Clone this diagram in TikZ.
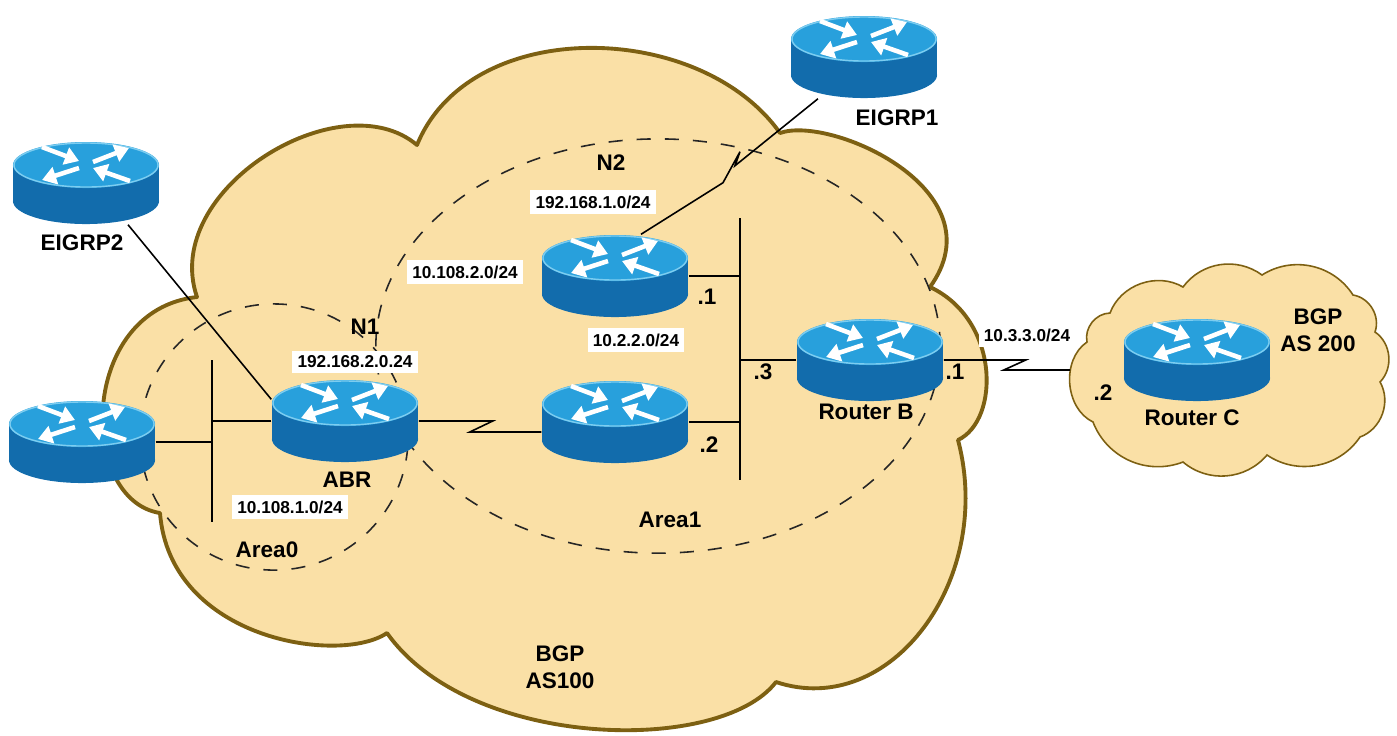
\documentclass[tikz,border=0pt]{standalone}
\usepackage{fontspec}
\setmainfont{Liberation Sans}
\usepackage{tikz}
\usetikzlibrary{arrows.meta}
\definecolor{cloudfill}{RGB}{250,224,166}
\definecolor{cloudline}{RGB}{125,96,18}
\definecolor{rtrtop}{RGB}{40,160,220}
\definecolor{rtrside}{RGB}{18,108,172}
\definecolor{rtrrim}{RGB}{125,205,240}
\tikzstyle{cloud}=[fill=cloudfill,draw=cloudline,line width=1.1pt,line join=round]
\tikzstyle{scloud}=[fill=cloudfill,draw=cloudline,line width=0.45pt]
\tikzstyle{area}=[draw=black!85,line width=0.45pt,dash pattern=on 4pt off 4pt]
\tikzstyle{lnk}=[draw=black,line width=0.45pt]
\tikzstyle{arw}=[white,line width=1.3pt,-{Triangle[width=5pt,length=4pt]}]
\tikzstyle{lbl}=[font=\fontsize{6.4}{7.6}\selectfont\bfseries,inner sep=1pt]
\tikzstyle{net}=[font=\fontsize{4.9}{5.5}\selectfont\bfseries,fill=white,inner sep=1.5pt]
\newcommand\rtrface{% the router icon, drawn inside the node
  \begin{scope}[shift={(path picture bounding box.center)}]
    \fill[rtrside] (-73,-18) rectangle (73,18);
    \fill[rtrside] (0,18) ellipse [x radius=0.73cm,y radius=0.23cm];
    \fill[rtrtop] (0,-18) ellipse [x radius=0.73cm,y radius=0.23cm];
    \draw[rtrrim,line width=0.4pt] (0,-18) ellipse [x radius=0.72cm,y radius=0.22cm];
    \draw[arw] (-44,-36) -- (-7,-22);
    \draw[arw] (44,-2) -- (7,-15);
    \draw[arw] (7,-21) -- (43,-35);
    \draw[arw] (-7,-15) -- (-44,-3);
  \end{scope}}
\tikzstyle{rtr}=[minimum width=1.46cm,minimum height=0.82cm,inner sep=0pt,path picture={\rtrface}]

\begin{document}
\begin{tikzpicture}[x=0.01cm,y=-0.01cm]
  \useasboundingbox (0,0) rectangle (1397,735);

  \path[cloud] (160,513) .. controls (78,500) and (78,310) .. (197,297)
    .. controls (160,190) and (340,80) .. (417,145)
    .. controls (470,15) and (700,20) .. (780,133)
    .. controls (830,115) and (1000,190) .. (930,287)
    .. controls (1000,320) and (1000,420) .. (958,440)
    .. controls (995,580) and (890,720) .. (776,682)
    .. controls (720,755) and (470,750) .. (387,633)
    .. controls (340,665) and (170,640) .. cycle;
  \path[scloud] (1087,342) to[bend left=50] (1110,313) to[bend left=50] (1183,287)
    to[bend left=45] (1262,275) to[bend left=45] (1353,295) to[bend left=50] (1375,332)
    to[bend left=50] (1380,382) to[bend left=50] (1360,437) to[bend left=45] (1267,455)
    to[bend left=45] (1183,462) to[bend left=45] (1093,422) to[bend left=60] (1087,342) -- cycle;

  \draw[area] (274,437) ellipse [x radius=1.34cm,y radius=1.33cm];
  \draw[area] (658,346) ellipse [x radius=2.82cm,y radius=2.07cm];

  \node[rtr] (eigrp2) at (86,183) {};
  \node[rtr] (eigrp1) at (864,57) {};
  \node[rtr] (r0) at (82,442) {};
  \node[rtr] (abr) at (345,421) {};
  \node[rtr] (r1) at (615,276) {};
  \node[rtr] (r2) at (615,422) {};
  \node[rtr] (rb) at (870,360) {};
  \node[rtr] (rc) at (1197,360) {};

  \coordinate (lan0a) at (212,360);
  \coordinate (lan0b) at (212,522);
  \coordinate (lan1a) at (740,218);
  \coordinate (lan1b) at (740,480);
  \coordinate (cc) at (1070,370);

  \draw[lnk] (lan0a) -- (lan0b);
  \draw[lnk] (lan1a) -- (lan1b);
  \draw[lnk] (r0.east) -- (r0.east -| lan0a);
  \draw[lnk] (abr.west) -- (abr.west -| lan0a);
  \draw[lnk] (r1.east) -- (r1.east -| lan1a);
  \draw[lnk] (r2.east) -- (r2.east -| lan1a);
  \draw[lnk] (rb.west) -- (rb.west -| lan1a);
  \draw[lnk] ([xshift=0.42cm]eigrp2.south) -- ([yshift=-0.2cm]abr.north west);
  \draw[lnk] ([xshift=-0.46cm]eigrp1.south) -- ++(-83,67) -- ++(5,-14) -- ++(-17,31) -- ([xshift=0.26cm]r1.north);
  \draw[lnk] (abr.east) -- ++(74,0) -- ++(-23,11) -- ([yshift=-0.1cm]r2.west);
  \draw[lnk] (rb.east) -- ++(82,0) -- ++(-22,10) -- (cc);

  \node[lbl] (t-e2) at (82,243) {EIGRP2};
  \node[lbl] (t-e1) at (897,118) {EIGRP1};
  \node[lbl] (t-n2) at (611,163) {N2};
  \node[net] (t-n2net) at (593,202) {192.168.1.0/24};
  \node[net] (t-a1net) at (465,272) {10.108.2.0/24};
  \node[lbl] (t-n1) at (365,327) {N1};
  \node[net] (t-n1net) at (355,362) {192.168.2.0.24};
  \node[net] (t-lan1) at (636,340) {10.2.2.0/24};
  \node[lbl] (t-r1) at (707,297) {.1};
  \node[lbl] (t-r2) at (709,445) {.2};
  \node[lbl] (t-rb3) at (763,372) {.3};
  \node[lbl] (t-abr) at (347,480) {ABR};
  \node[net] (t-lan0) at (290,507) {10.108.1.0/24};
  \node[lbl] (t-area0) at (267,550) {Area0};
  \node[lbl] (t-area1) at (670,520) {Area1};
  \node[lbl] (t-rb) at (866,412) {Router B};
  \node[lbl] (t-rb1) at (955,372) {.1};
  \node[net] (t-ser) at (1027,335) {10.3.3.0/24};
  \node[lbl] (t-rc2) at (1103,393) {.2};
  \node[lbl] (t-rc) at (1192,418) {Router C};
  \node[lbl,align=center] (t-as200) at (1318,330) {BGP\\AS 200};
  \node[lbl,align=center] (t-as100) at (560,667) {BGP\\AS100};
\end{tikzpicture}
\end{document}
